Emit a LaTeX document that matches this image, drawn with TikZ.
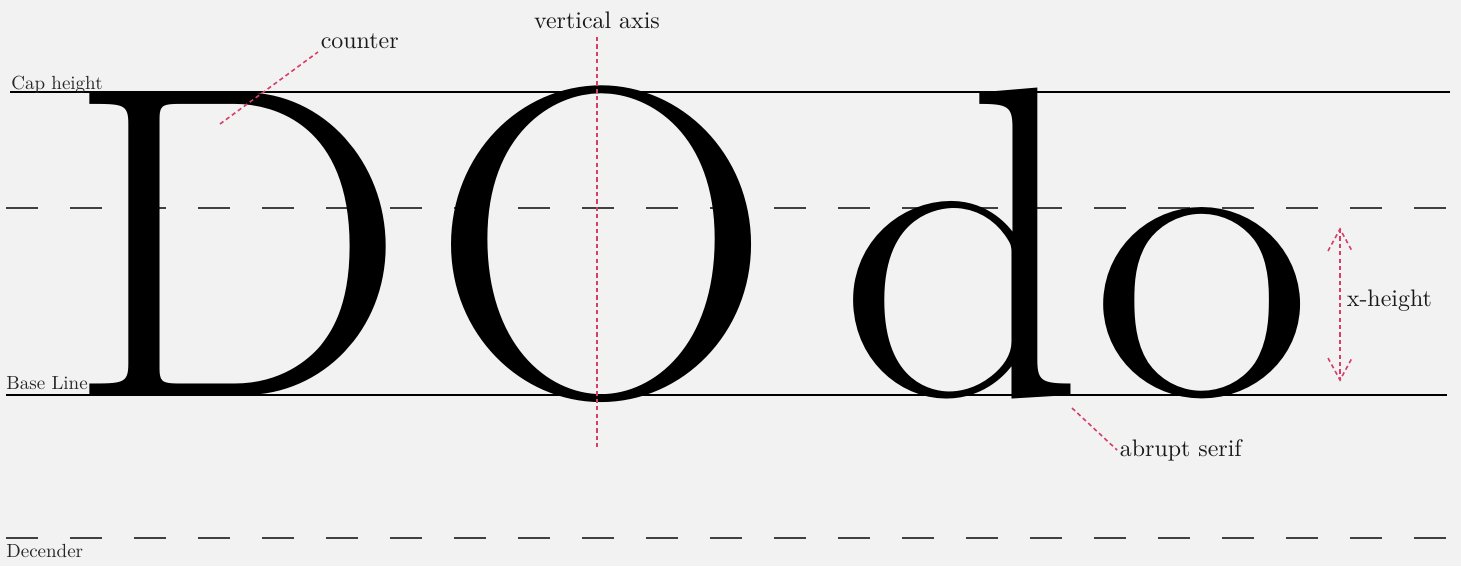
\documentclass[tikz,border=0pt]{standalone}
\usepackage{tikz}
\usetikzlibrary{positioning}
\definecolor{paper}{RGB}{242,242,242}
\definecolor{marker}{RGB}{214,64,104}

\begin{document}
\begin{tikzpicture}[x=0.01cm,y=-0.01cm,
  glyph/.style={anchor=base,inner sep=0pt,font=\fontsize{126pt}{130pt}\selectfont},
  guide/.style={line width=0.3pt,black},
  guidedash/.style={line width=0.45pt,black!75,dash pattern=on 9.1pt off 9.1pt},
  guidelabel/.style={anchor=base west,inner sep=0pt,scale=0.54,transform shape,black!85},
  callout/.style={inner sep=1pt,scale=0.68,transform shape,black!90},
  markline/.style={line width=0.45pt,marker,dash pattern=on 1.2pt off 0.9pt}]
 \useasboundingbox[fill=paper] (0,0) rectangle (1461,566);
 % guide lines
 \draw[guide] (10,92) -- (1450,92);
 \draw[guide] (6,395) -- (1447,395);
 \draw[guidedash] (6,208) -- (1447,208);
 \draw[guidedash] (6,538) -- (1447,538);
 \node[guidelabel] (caph) at (11,89) {Cap height};
 \node[guidelabel] (basel) at (6,389) {Base Line};
 \node[guidelabel] (desc) at (6,557) {Decender};
 % letters
 \node[glyph] (D) at (237,395) {\scalebox{1.1}[1]{D}};
 \node[glyph] (O) at (602,395) {\scalebox{1.08}[1]{O}};
 \node[glyph] (d) at (962,395) {\scalebox{1.1}[1]{d}};
 \node[glyph] (o) at (1202,395) {\scalebox{1.1}[0.96]{o}};
 % callouts
 \node[callout,anchor=south west] (counter) at (318,52) {counter};
 \coordinate (inD) at (220,124);
 \draw[markline] (inD) -- (counter.south west);
 \node[callout,anchor=base] (axis) at (597,28) {vertical axis};
 \coordinate (axtop) at (597,37);
 \coordinate (axbot) at (597,450);
 \draw[markline] (axtop) -- (axbot);
 \node[callout,anchor=west] (serif) at (1117,450) {abrupt serif};
 \coordinate (foot) at (1072,408);
 \draw[markline] (foot) -- (serif.west);
 \coordinate (xtop) at (1340,229);
 \coordinate (xbot) at (1340,380);
 \node[callout,anchor=west] (xh) at (1344,301) {x-height};
 \draw[markline] (xtop) -- (xbot);
 \draw[markline] (xtop) ++(-12,22) -- (xtop) -- ++(12,22);
 \draw[markline] (xbot) ++(-12,-22) -- (xbot) -- ++(12,-22);
\end{tikzpicture}
\end{document}
